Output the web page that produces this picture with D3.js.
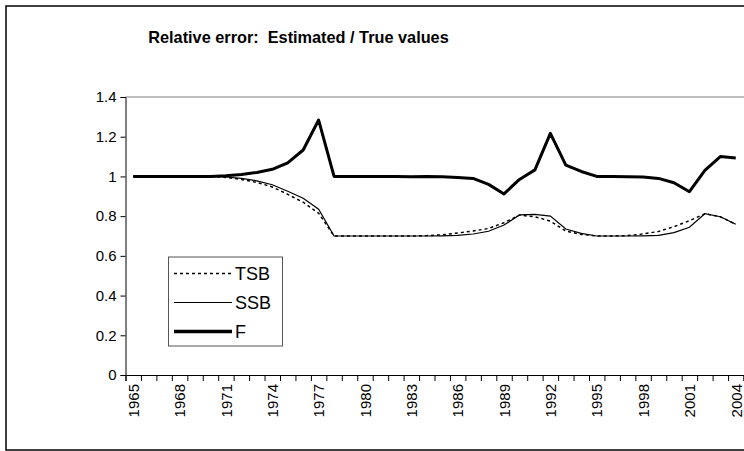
<!DOCTYPE html>
<html><head><meta charset="utf-8">
<script src="https://cdn.jsdelivr.net/npm/d3@7"></script>
<style>body{margin:0;background:#fff}svg{display:block}text{font-family:"Liberation Sans",Arial,sans-serif}</style>
</head><body>
<svg id="c" width="744" height="451"></svg>
<script>
const years = [1965,1966,1967,1968,1969,1970,1971,1972,1973,1974,1975,1976,1977,1978,1979,1980,1981,1982,1983,1984,1985,1986,1987,1988,1989,1990,1991,1992,1993,1994,1995,1996,1997,1998,1999,2000,2001,2002,2003,2004];
const tsb = [1,1,1,1,1,1,0.995,0.985,0.97,0.947,0.91,0.87,0.815,0.70,0.70,0.70,0.70,0.70,0.70,0.702,0.706,0.715,0.725,0.738,0.767,0.805,0.797,0.775,0.725,0.708,0.70,0.70,0.702,0.71,0.723,0.747,0.777,0.812,0.797,0.759];
const ssb = [1,1,1,1,1,1,0.997,0.99,0.978,0.958,0.925,0.89,0.835,0.70,0.70,0.70,0.70,0.70,0.70,0.70,0.701,0.703,0.71,0.724,0.755,0.806,0.809,0.80,0.735,0.713,0.70,0.70,0.70,0.701,0.703,0.717,0.744,0.812,0.797,0.759];
const fval = [1,1,1,1,1,1,1.003,1.01,1.02,1.036,1.068,1.133,1.284,1.0,1.0,1.0,1.0,1.0,0.998,1.0,0.998,0.995,0.99,0.96,0.912,0.985,1.033,1.217,1.057,1.025,1.0,1.0,0.999,0.997,0.99,0.968,0.923,1.03,1.1,1.093];
const yTicks = [0,0.2,0.4,0.6,0.8,1,1.2,1.4];
const labelYears = [1965,1968,1971,1974,1977,1980,1983,1986,1989,1992,1995,1998,2001,2004];
const seriesNames = ["TSB","SSB","F"];

const svg = d3.select("#c");
const L = 125.5, R = 743.5, T = 97, B = 375;
const x = d3.scaleLinear().domain([years[0]-0.5, years[years.length-1]+0.5]).range([L, R]);
const y = d3.scaleLinear().domain([0, 1.4]).range([B, T]);

// outer border
svg.append("rect").attr("x",6).attr("y",6).attr("width",760).attr("height",444)
  .attr("fill","none").attr("stroke","#000").attr("stroke-width",1.5);

// title
svg.append("text").attr("x",298.5).attr("y",43).attr("text-anchor","middle")
  .style("font-size","16.3px").style("font-weight","bold").style("white-space","pre")
  .text("Relative error:  Estimated / True values");

// plot area top border
svg.append("line").attr("x1",L).attr("x2",744).attr("y1",T).attr("y2",T)
  .attr("stroke","#808080").attr("stroke-width",1);

// y axis
const ya = svg.append("g").attr("transform",`translate(${L},0)`)
  .call(d3.axisLeft(y).tickValues(yTicks).tickSize(5).tickPadding(4).tickFormat(d=>String(+d.toFixed(1))));
ya.select(".domain").attr("stroke","#000");
ya.selectAll("text").style("font-size","15px").attr("fill","#000").attr("font-family",null);

// x axis ticks at category boundaries
const bounds = years.map(v=>v-0.5).concat([years[years.length-1]+0.5]);
const xa = svg.append("g").attr("transform",`translate(0,${B})`)
  .call(d3.axisBottom(x).tickValues(bounds).tickSize(6).tickFormat(""));
xa.select(".domain").attr("stroke","#000");
// labels
const xl = svg.append("g").attr("transform",`translate(0,${B})`)
  .call(d3.axisBottom(x).tickValues(labelYears).tickSize(0).tickFormat(d3.format("d")));
xl.select(".domain").remove();
xl.selectAll("text").attr("font-family",null).style("font-size","15px").attr("fill","#000")
  .attr("transform","rotate(-90)").attr("text-anchor","end").attr("dy","0.35em").attr("x",-9).attr("y",0);

// lines
const mk = vals => d3.line().x((d,i)=>x(years[i])).y(d=>y(d))(vals);
svg.append("path").attr("d",mk(tsb)).attr("fill","none").attr("stroke","#000").attr("stroke-width",1.5).attr("stroke-dasharray","3,3");
svg.append("path").attr("d",mk(ssb)).attr("fill","none").attr("stroke","#000").attr("stroke-width",1.2);
svg.append("path").attr("d",mk(fval)).attr("fill","none").attr("stroke","#000").attr("stroke-width",3).attr("stroke-linejoin","round");

// legend
const lg = svg.append("g");
lg.append("rect").attr("x",168.5).attr("y",257).attr("width",114).attr("height",89)
  .attr("fill","#fff").attr("stroke","#555").attr("stroke-width",1);
const styles = [{w:1.5,dash:"3,3"},{w:1.2,dash:null},{w:3.5,dash:null}];
const rowY = [273.5, 302.5, 331.5];
seriesNames.forEach((n,i)=>{
  lg.append("line").attr("x1",174).attr("x2",232).attr("y1",rowY[i]).attr("y2",rowY[i])
    .attr("stroke","#000").attr("stroke-width",styles[i].w).attr("stroke-dasharray",styles[i].dash);
  lg.append("text").attr("x",235).attr("y",rowY[i]).attr("dy","0.36em").style("font-size","18px").text(n);
});
</script>
</body></html>
